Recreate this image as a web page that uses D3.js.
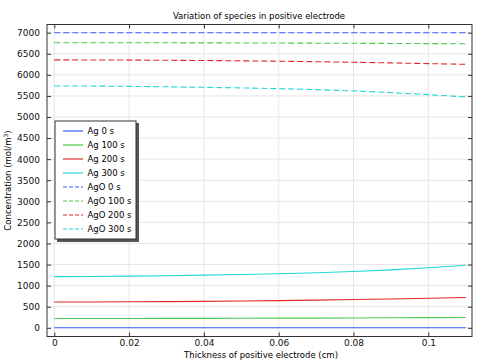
<!DOCTYPE html>
<html><head><meta charset="utf-8">
<script src="https://cdn.jsdelivr.net/npm/d3@7"></script>
<style>body{margin:0;background:#fff}svg{display:block}text{font-family:"DejaVu Sans",sans-serif}</style>
</head><body><svg id="c" width="477" height="360"></svg>
<script>
const xs = [0, 0.01, 0.02, 0.03, 0.04, 0.05, 0.06, 0.07, 0.08, 0.09, 0.1, 0.11];
const ag0   = [0,0,0,0,0,0,0,0,0,0,0,0];
const ag100 = [220,221,222,223,225,227,229,231,234,237,241,245];
const ag200 = [612,614,617,622,628,636,645,656,670,685,702,720];
const ag300 = [1215,1218,1225,1236,1250,1265,1282,1305,1335,1375,1425,1485];
const ago0   = [7000,7000,7000,7000,7000,7000,7000,7000,7000,7000,7000,7000];
const ago100 = [6762,6762,6761,6760,6758,6756,6754,6751,6748,6745,6741,6737];
const ago200 = [6355,6353,6350,6346,6340,6332,6323,6312,6298,6283,6266,6250];
const ago300 = [5737,5734,5727,5716,5704,5690,5672,5650,5620,5580,5530,5476];
const seriesNames = ["Ag 0 s","Ag 100 s","Ag 200 s","Ag 300 s","AgO 0 s","AgO 100 s","AgO 200 s","AgO 300 s"];
const seriesData = [ag0,ag100,ag200,ag300,ago0,ago100,ago200,ago300];
const colors = ["#3a5cff","#4cc94c","#e02a2a","#22d6d6"];
const xTicks = [0,0.02,0.04,0.06,0.08,0.1];
const yTicks = d3.range(0,7001,500);

const svg = d3.select("#c");
const L=47,R=472,T=24.5,B=336.5;
const x = d3.scaleLinear().domain([-0.00195,0.11168]).range([L,R]);
const y = d3.scaleLinear().domain([-206,7194]).range([B,T]);

// grid
svg.append("g").selectAll("line").data(xTicks).join("line")
  .attr("x1",d=>x(d)).attr("x2",d=>x(d)).attr("y1",T).attr("y2",B)
  .attr("stroke","#e6e6e6").attr("stroke-width",1);
svg.append("g").selectAll("line").data(yTicks).join("line")
  .attr("x1",L).attr("x2",R).attr("y1",d=>y(d)).attr("y2",d=>y(d))
  .attr("stroke","#e6e6e6").attr("stroke-width",1);

// lines
const line = d3.line().x((d,i)=>x(xs[i])).y(d=>y(d));
seriesData.forEach((s,k)=>{
  svg.append("path").datum(s).attr("d",line).attr("fill","none")
    .attr("stroke",colors[k%4]).attr("stroke-width",1.1)
    .attr("stroke-dasharray",k>=4?"6,3":null);
});

// axes
const ax = svg.append("g");
ax.append("g").attr("transform",`translate(0,${B})`)
  .call(d3.axisBottom(x).tickValues(xTicks).tickSize(-4).tickPadding(3).tickFormat(d=>d===0?"0":String(d)))
  .call(g=>g.select(".domain").remove());
ax.append("g").attr("transform",`translate(0,${T})`)
  .call(d3.axisTop(x).tickValues(xTicks).tickSize(-4).tickFormat(""))
  .call(g=>g.select(".domain").remove());
ax.append("g").attr("transform",`translate(${L},0)`)
  .call(d3.axisLeft(y).tickValues(yTicks).tickSize(-4).tickPadding(7).tickFormat(d3.format("d")))
  .call(g=>g.select(".domain").remove());
ax.append("g").attr("transform",`translate(${R},0)`)
  .call(d3.axisRight(y).tickValues(yTicks).tickSize(-4).tickFormat(""))
  .call(g=>g.select(".domain").remove());
svg.selectAll(".tick line").attr("stroke","#333");
svg.selectAll(".tick text").attr("font-family","DejaVu Sans").attr("font-size",9).attr("fill","#111");
svg.append("rect").attr("x",L).attr("y",T).attr("width",R-L).attr("height",B-T)
  .attr("fill","none").attr("stroke","#333").attr("stroke-width",1);

// titles
svg.append("text").attr("x",259).attr("y",19).attr("text-anchor","middle")
  .attr("font-size",8.5).text("Variation of species in positive electrode");
svg.append("text").attr("x",261).attr("y",357.5).attr("text-anchor","middle")
  .attr("font-size",8.5).text("Thickness of positive electrode (cm)");
const yl = svg.append("text").attr("transform",`translate(11,${(T+B)/2}) rotate(-90)`)
  .attr("text-anchor","middle").attr("font-size",8.5);
yl.append("tspan").text("Concentration (mol/m");
yl.append("tspan").attr("font-size",6).attr("dy",-3.5).text("3");
yl.append("tspan").attr("dy",3.5).text(")");

// legend
const lg = svg.append("g").attr("transform","translate(55,121)");
lg.append("rect").attr("x",2).attr("y",2).attr("width",82).attr("height",119).attr("fill","#555");
lg.append("rect").attr("x",0).attr("y",0).attr("width",81).attr("height",118)
  .attr("fill","#fff").attr("stroke","#333").attr("stroke-width",1);
seriesNames.forEach((n,i)=>{
  const yy = 10+i*14;
  lg.append("line").attr("x1",8).attr("x2",28).attr("y1",yy).attr("y2",yy)
    .attr("stroke",colors[i%4]).attr("stroke-width",1.2).attr("stroke-dasharray",i>=4?"4,2":null);
  lg.append("text").attr("x",32.5).attr("y",yy+3.2).attr("font-size",8.5).text(n);
});
</script></body></html>
